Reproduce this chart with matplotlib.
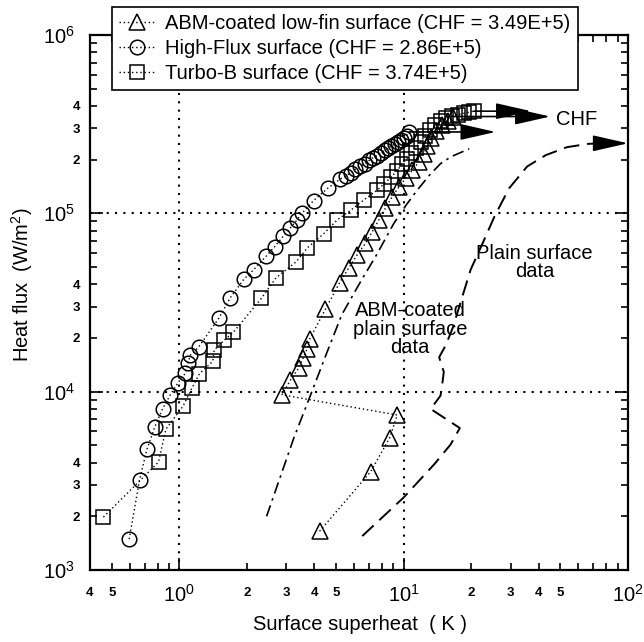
import matplotlib
matplotlib.use("Agg")
import matplotlib.pyplot as plt

plt.rcParams["font.family"] = ["Liberation Sans", "DejaVu Sans"]
plt.rcParams["mathtext.fontset"] = "custom"
plt.rcParams["mathtext.rm"] = "Liberation Sans"
plt.rcParams["mathtext.it"] = "Liberation Sans:italic"
plt.rcParams["mathtext.bf"] = "Liberation Sans:bold"

# ---- critical heat flux of each enhanced surface (W/m^2) ----
chf_lowfin = 3.49e5
chf_highflux = 2.86e5
chf_turbob = 3.74e5

# ---- ABM-coated low-fin surface ----
lowfin_dT = [4.22, 7.13, 8.66, 9.37, 2.87, 3.13, 3.41, 3.57, 3.71, 3.82, 4.48,
             5.18, 5.70, 6.21, 6.76, 7.25, 7.76, 8.30, 8.90, 9.50, 10.2, 10.9,
             11.7, 12.3, 12.7, 13.3, 14.0, 14.8, 15.7, 16.6]
lowfin_q = [1.65e3, 3.56e3, 5.5e3, 7.4e3, 9.6e3, 1.16e4, 1.36e4, 1.55e4, 1.74e4,
            1.98e4, 2.9e4, 4.08e4, 4.95e4, 5.86e4, 6.8e4, 7.9e4, 9.2e4, 1.07e5,
            1.24e5, 1.40e5, 1.57e5, 1.74e5, 1.94e5, 2.15e5, 2.40e5, 2.65e5,
            2.90e5, 3.12e5, 3.30e5, chf_lowfin]

# ---- High-Flux surface ----
highflux_dT = [0.598, 0.665, 0.718, 0.776, 0.842, 0.912, 0.987, 1.064, 1.093,
               1.12, 1.22, 1.50, 1.69, 1.94, 2.15, 2.44, 2.66, 2.90, 3.13, 3.35,
               3.52, 3.97, 4.58, 5.23, 5.52, 5.81, 6.10, 6.42, 6.71, 7.02, 7.30,
               7.62, 7.91, 8.22, 8.49, 8.81, 9.12, 9.40, 9.71, 10.0, 10.3, 10.6]
highflux_q = [1.49e3, 3.2e3, 4.76e3, 6.3e3, 8.0e3, 9.6e3, 1.12e4, 1.27e4, 1.44e4,
              1.60e4, 1.78e4, 2.58e4, 3.37e4, 4.27e4, 4.84e4, 5.75e4, 6.5e4,
              7.42e4, 8.3e4, 9.2e4, 1.0e5, 1.18e5, 1.38e5, 1.56e5, 1.62e5,
              1.69e5, 1.77e5, 1.84e5, 1.90e5, 1.98e5, 2.05e5, 2.11e5, 2.18e5,
              2.26e5, 2.32e5, 2.38e5, 2.44e5, 2.52e5, 2.58e5, 2.65e5, 2.73e5,
              chf_highflux]

# ---- Turbo-B surface ----
turbob_dT = [0.459, 0.808, 0.872, 1.04, 1.14, 1.23, 1.41, 1.43, 1.59, 1.74, 2.32,
             2.70, 3.32, 3.72, 4.41, 5.06, 5.80, 6.65, 7.63, 8.17, 8.76, 9.35,
             9.80, 10.3, 10.8, 11.3, 11.9, 12.5, 13.1, 13.8, 14.6, 15.5, 16.5,
             17.5, 18.6, 19.6, 20.5]
turbob_q = [1.98e3, 4.03e3, 6.17e3, 8.3e3, 1.05e4, 1.26e4, 1.48e4, 1.71e4, 1.95e4,
            2.15e4, 3.33e4, 4.35e4, 5.35e4, 6.4e4, 7.7e4, 9.2e4, 1.04e5, 1.19e5,
            1.35e5, 1.46e5, 1.59e5, 1.73e5, 1.88e5, 2.02e5, 2.17e5, 2.33e5,
            2.52e5, 2.72e5, 2.92e5, 3.12e5, 3.30e5, 3.43e5, 3.52e5, 3.58e5,
            3.64e5, 3.69e5, chf_turbob]

# ---- ABM-coated plain surface (curve) ----
abm_plain_dT = [2.45, 3.24, 3.85, 4.56, 5.30, 6.40, 7.60, 9.05, 10.3, 11.5, 13.0,
                14.6, 16.3, 19.6]
abm_plain_q = [2.0e3, 5.5e3, 9.6e3, 1.67e4, 2.7e4, 4.1e4, 5.9e4, 8.8e4, 1.12e5,
               1.35e5, 1.63e5, 1.90e5, 2.08e5, 2.30e5]

# ---- plain surface (curve) ----
plain_dT = [6.54, 10.0, 13.7, 16.2, 17.8, 13.2, 14.6, 14.9, 15.1, 14.4, 15.4, 16.6,
            18.3, 19.9, 22.5, 25.4, 29.5, 35.5, 43.0, 53.5, 66.0, 74.0]
plain_q = [1.55e3, 2.55e3, 3.92e3, 5.06e3, 6.25e3, 8.0e3, 9.5e3, 1.13e4, 1.29e4,
           1.56e4, 1.82e4, 2.3e4, 3.44e4, 4.84e4, 6.8e4, 9.6e4, 1.38e5, 1.83e5,
           2.12e5, 2.35e5, 2.45e5, 2.47e5]

# CHF arrow ends (superheat where each arrow head points)
arrow_tip_lowfin = 45.0
arrow_tip_highflux = 25.7
arrow_tip_turbob = 37.0
arrow_tip_plain = 100.0


def sci_label(v):
    mant, exp = f"{v:.2E}".split("E")
    return f"{mant}E+{int(exp)}"


fig = plt.figure(figsize=(6.44, 6.42), dpi=100)
ax = fig.add_axes([90 / 644, 72 / 642, 538 / 644, 535 / 642])
ax.set_xscale("log")
ax.set_yscale("log")
ax.set_xlim(0.4, 100)
ax.set_ylim(1e3, 1e6)

# reference grid lines at the decades
for gx in (1, 10):
    ax.axvline(gx, color="k", lw=1.5, ls=(0, (1, 3)), zorder=1)
for gy in (1e4, 1e5):
    ax.axhline(gy, color="k", lw=1.5, ls=(0, (1, 3)), zorder=1)

mk = dict(mfc="none", mec="k", mew=1.1, color="k", lw=1.0, ls=(0, (1, 2)))
h1, = ax.plot(lowfin_dT, lowfin_q, marker="^", ms=11.5, **mk,
              label=f"ABM-coated low-fin surface (CHF = {sci_label(chf_lowfin)})")
h2, = ax.plot(highflux_dT, highflux_q, marker="o", ms=10.5, **mk,
              label=f"High-Flux surface (CHF = {sci_label(chf_highflux)})")
h3, = ax.plot(turbob_dT, turbob_q, marker="s", ms=9.5, **mk,
              label=f"Turbo-B surface (CHF = {sci_label(chf_turbob)})")

ax.plot(abm_plain_dT, abm_plain_q, color="k", lw=1.2, ls=(0, (7, 3, 1.5, 3)))
ax.plot(plain_dT, plain_q, color="k", lw=1.4, ls=(0, (8, 4)))


def chf_arrow(x0, x1, y):
    ax.annotate("", xy=(x1, y), xytext=(x0, y),
                arrowprops=dict(arrowstyle="-|>,head_length=2.2,head_width=0.5",
                                mutation_scale=10, lw=1.2, color="k",
                                shrinkA=0, shrinkB=0))


chf_arrow(lowfin_dT[-1], arrow_tip_lowfin, chf_lowfin)
chf_arrow(highflux_dT[-1], arrow_tip_highflux, chf_highflux)
chf_arrow(turbob_dT[-1], arrow_tip_turbob, chf_turbob)
chf_arrow(plain_dT[-1], arrow_tip_plain, plain_q[-1])

ax.text(59, 3.34e5, "CHF", ha="center", va="center", fontsize=14.5)
ax.text(38.3, 5.3e4, "Plain surface\ndata", ha="center", va="center",
        fontsize=14.5, linespacing=0.95)
ax.text(10.7, 2.24e4, "ABM-coated\nplain surface\ndata", ha="center",
        va="center", fontsize=14.5, linespacing=0.95)

# ticks
xmaj = [1, 10, 100]
ax.set_xticks(xmaj, [r"$10^{0}$", r"$10^{1}$", r"$10^{2}$"])
xmin = [0.4, 0.5, 0.6, 0.7, 0.8, 0.9] + [k for k in range(2, 10)] + [10 * k for k in range(2, 10)]
xmin_lab = ["4", "5", "", "", "", ""] + ["2", "3", "4", "5", "", "", "", ""] * 2
ax.set_xticks(xmin, xmin_lab, minor=True)

ymaj = [1e3, 1e4, 1e5, 1e6]
ax.set_yticks(ymaj, [r"$10^{3}$", r"$10^{4}$", r"$10^{5}$", r"$10^{6}$"])
ymin = [k * 10 ** e for e in (3, 4, 5) for k in range(2, 10)]
ymin_lab = ["2", "3", "4", "", "", "", "", ""] * 3
ax.set_yticks(ymin, ymin_lab, minor=True)

ax.tick_params(which="both", direction="in", top=True, right=True, width=1.2)
ax.tick_params(which="major", length=9, labelsize=14.5)
ax.tick_params(which="minor", length=5, labelsize=9.5)
ax.tick_params(axis="x", which="major", pad=10)
ax.tick_params(axis="x", which="minor", pad=12)
ax.tick_params(axis="y", which="major", pad=11)
ax.tick_params(axis="y", which="minor", pad=7)
for lab in ax.get_xticklabels(minor=True) + ax.get_yticklabels(minor=True):
    lab.set_fontweight("bold")

for s in ax.spines.values():
    s.set_linewidth(1.6)

fig.text(360 / 644, 1 - 625 / 642, "Surface superheat  ( K )", ha="center",
         va="center", fontsize=14.5)
fig.text(22 / 644, 1 - 285 / 642, "Heat flux  (W/m$^2$)", ha="center",
         va="center", fontsize=14.5, rotation=90)

leg = ax.legend(handles=[h1, h2, h3], loc="upper left",
                bbox_to_anchor=(112 / 644, 1 - 7 / 642),
                bbox_transform=fig.transFigure, borderaxespad=0,
                fontsize=14.5, numpoints=1, handlelength=1.8, handletextpad=0.5,
                borderpad=0.35, labelspacing=0.3, fancybox=False,
                framealpha=1, edgecolor="k")
leg.get_frame().set_linewidth(1.2)

fig.savefig("out.png", dpi=100)
